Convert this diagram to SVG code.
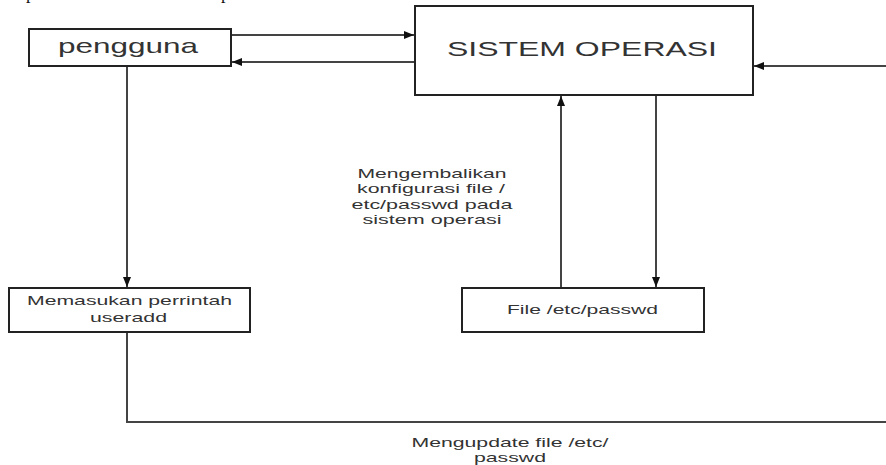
<svg xmlns="http://www.w3.org/2000/svg" width="886" height="465" viewBox="0 0 886 465">
<defs>
<marker id="ah" viewBox="0 0 10 8" refX="10" refY="4" markerWidth="10" markerHeight="8" markerUnits="userSpaceOnUse" orient="auto">
<path d="M0,0 L10,4 L0,8 Z" fill="#111"/>
</marker>
</defs>
<style>
.box{fill:#fff;stroke:#222;stroke-width:2}
.ln{fill:none;stroke:#444;stroke-width:2}
.t{font-family:"Liberation Sans",Arial,sans-serif;fill:#333;text-anchor:middle}
.s{font-size:13px}
.frag{font-family:"Liberation Serif","Times New Roman",serif;font-size:18px;fill:#111}
</style>
<rect width="886" height="465" fill="#fff"/>
<text class="frag" x="26" y="-1">p</text>
<text class="frag" x="221" y="-1">p</text>
<g id="connectors">
<line class="ln" x1="231" y1="35" x2="414" y2="35" marker-end="url(#ah)"/>
<line class="ln" x1="415" y1="62" x2="232" y2="62" marker-end="url(#ah)"/>
<line class="ln" x1="886" y1="66" x2="754" y2="66" marker-end="url(#ah)"/>
<line class="ln" x1="561" y1="288" x2="561" y2="96" marker-end="url(#ah)"/>
<line class="ln" x1="656" y1="95" x2="656" y2="287" marker-end="url(#ah)"/>
<line class="ln" x1="127" y1="66" x2="127" y2="287" marker-end="url(#ah)"/>
<polyline class="ln" points="127,332 127,422 886,422"/>
<g id="label-mengembalikan">
<text class="t s" x="432" y="178" textLength="149" lengthAdjust="spacingAndGlyphs">Mengembalikan</text>
<text class="t s" x="431" y="193" textLength="148" lengthAdjust="spacingAndGlyphs">konfigurasi file /</text>
<text class="t s" x="432" y="209" textLength="161" lengthAdjust="spacingAndGlyphs">etc/passwd pada</text>
<text class="t s" x="432" y="224" textLength="139" lengthAdjust="spacingAndGlyphs">sistem operasi</text>
</g>
<g id="label-mengupdate">
<text class="t s" x="510" y="447" textLength="197" lengthAdjust="spacingAndGlyphs">Mengupdate file /etc/</text>
<text class="t s" x="510" y="462" textLength="72" lengthAdjust="spacingAndGlyphs">passwd</text>
</g>
</g>
<g id="pengguna">
<rect class="box" x="29" y="29" width="202" height="37"/>
<text class="t" x="128" y="53" font-size="21" textLength="140" lengthAdjust="spacingAndGlyphs">pengguna</text>
</g>
<g id="sistem-operasi">
<rect class="box" x="415" y="6" width="338" height="89"/>
<text class="t" x="582" y="56" font-size="20" textLength="270" lengthAdjust="spacingAndGlyphs">SISTEM OPERASI</text>
</g>
<g id="memasukan">
<rect class="box" x="9" y="288" width="241" height="44"/>
<text class="t s" x="129.5" y="305" textLength="205" lengthAdjust="spacingAndGlyphs">Memasukan perrintah</text>
<text class="t s" x="128.5" y="322" textLength="77" lengthAdjust="spacingAndGlyphs">useradd</text>
</g>
<g id="file-passwd">
<rect class="box" x="462" y="288" width="242" height="44"/>
<text class="t s" x="582.5" y="314" textLength="151" lengthAdjust="spacingAndGlyphs">File /etc/passwd</text>
</g>
</svg>
